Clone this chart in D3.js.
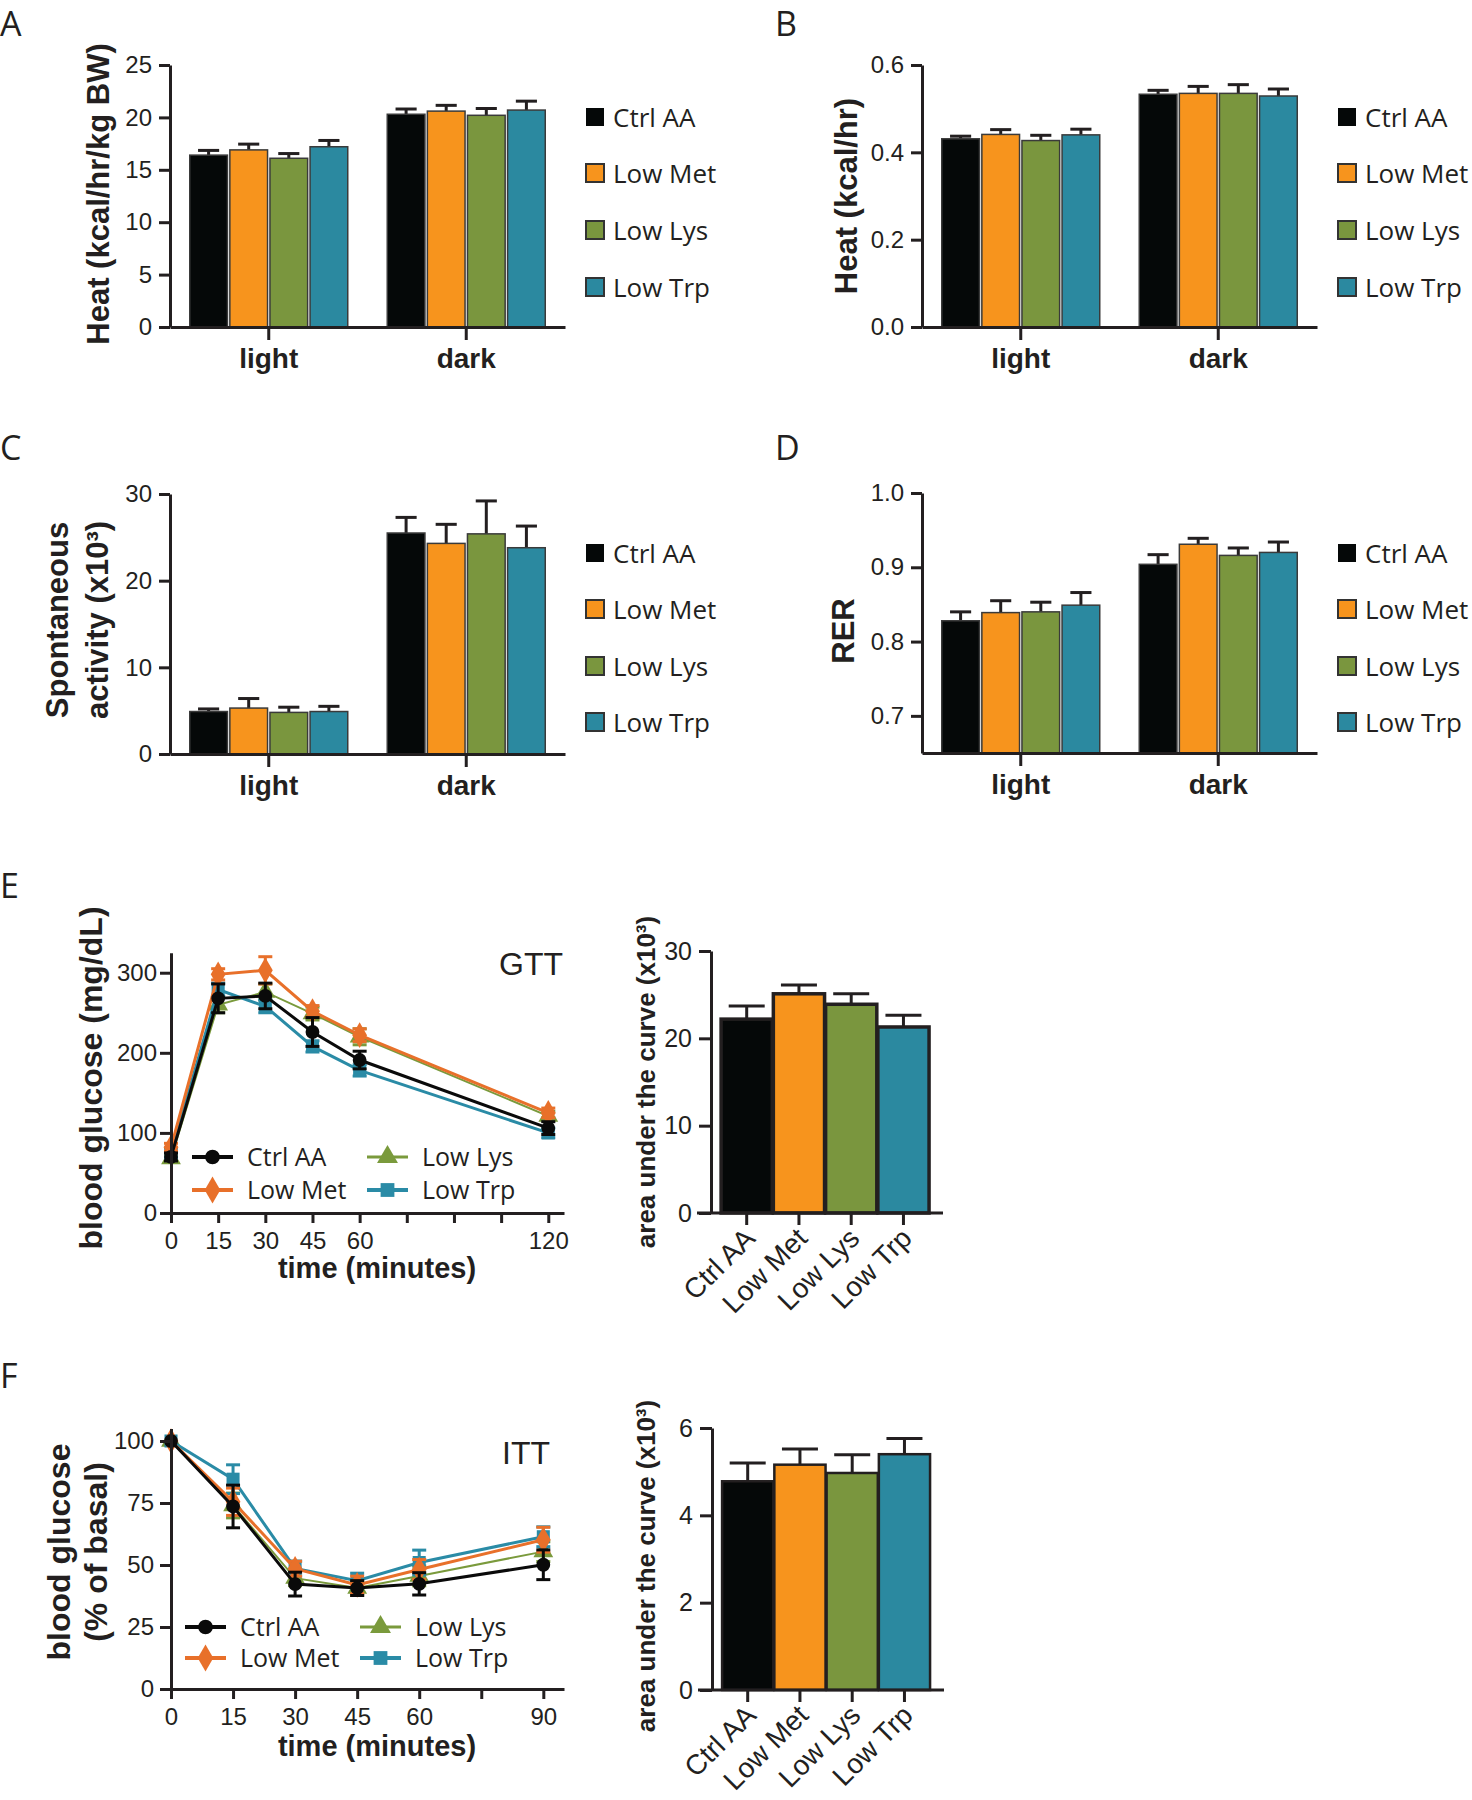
<!DOCTYPE html>
<html><head><meta charset="utf-8">
<script src="https://cdn.jsdelivr.net/npm/d3@7"></script>
<style>
body{margin:0;background:#fff;}
svg text{fill:#231F20;}
</style></head><body>
<script>
// ---------- DATA ----------
const periods = ["light", "dark"];
const groups = ["Ctrl AA", "Low Met", "Low Lys", "Low Trp"];

// A: Heat (kcal/hr/kg BW)
const heatBwLight = [16.4, 16.9, 16.1, 17.2];
const heatBwLightErr = [0.45, 0.55, 0.45, 0.6];
const heatBwDark = [20.3, 20.6, 20.2, 20.7];
const heatBwDarkErr = [0.5, 0.55, 0.65, 0.85];
const heatBwTicks = [0, 5, 10, 15, 20, 25];

// B: Heat (kcal/hr)
const heatLight = [0.431, 0.441, 0.427, 0.440];
const heatLightErr = [0.006, 0.011, 0.012, 0.013];
const heatDark = [0.533, 0.535, 0.535, 0.529];
const heatDarkErr = [0.009, 0.016, 0.020, 0.016];
const heatTicks = [0, 0.2, 0.4, 0.6];

// C: Spontaneous activity (x10^3)
const actLight = [4.9, 5.3, 4.8, 4.9];
const actLightErr = [0.3, 1.1, 0.6, 0.6];
const actDark = [25.5, 24.3, 25.4, 23.8];
const actDarkErr = [1.8, 2.2, 3.8, 2.5];
const actTicks = [0, 10, 20, 30];

// D: RER
const rerLight = [0.828, 0.839, 0.840, 0.849];
const rerLightErr = [0.012, 0.016, 0.013, 0.017];
const rerDark = [0.904, 0.931, 0.916, 0.920];
const rerDarkErr = [0.013, 0.008, 0.010, 0.014];
const rerTicks = [0.7, 0.8, 0.9, 1.0];

// E: GTT
const gttTimes = [0, 15, 30, 45, 60, 120];
const gttCtrl = [70, 268, 271, 226, 191, 106];
const gttCtrlErr = [5, 18, 16, 18, 11, 8];
const gttMet = [82, 298, 303, 252, 222, 125];
const gttMetErr = [5, 7, 17, 7, 8, 6];
const gttLys = [68, 260, 276, 249, 220, 121];
const gttLysErr = [4, 10, 10, 8, 10, 6];
const gttTrp = [75, 279, 258, 208, 178, 100];
const gttTrpErr = [6, 8, 8, 7, 7, 6];
const gttYTicks = [0, 100, 200, 300];
const gttXTicks = [0, 15, 30, 45, 60, 75, 90, 105, 120];
const gttXLabels = [0, 15, 30, 45, 60, 120];
const gttAuc = [22.2, 25.1, 23.9, 21.3];
const gttAucErr = [1.5, 1.0, 1.2, 1.35];
const gttAucTicks = [0, 10, 20, 30];

// F: ITT
const ittTimes = [0, 15, 30, 45, 60, 90];
const ittCtrl = [100, 73.6, 42.3, 40.7, 42.4, 50.1];
const ittCtrlErr = [0, 8.6, 4.8, 3, 4.5, 6];
const ittMet = [100, 75.5, 48.5, 42.0, 48.2, 60.2];
const ittMetErr = [0, 5.5, 3, 3.5, 4, 5];
const ittLys = [100, 74, 44.7, 40.7, 45.6, 55.4];
const ittLysErr = [0, 5, 3, 3, 4, 4];
const ittTrp = [100, 84.6, 48.6, 43.7, 51.0, 61.4];
const ittTrpErr = [0, 5.8, 3, 3, 5, 4];
const ittYTicks = [0, 25, 50, 75, 100];
const ittXTicks = [0, 15, 30, 45, 60, 75, 90];
const ittXLabels = [0, 15, 30, 45, 60, 90];
const ittAuc = [4.78, 5.16, 4.97, 5.40];
const ittAucErr = [0.42, 0.36, 0.42, 0.36];
const ittAucTicks = [0, 2, 4, 6];

// ---------- STYLE ----------
const barColors = ["#050808", "#F7941D", "#7A963E", "#2B89A0"];
const lineColors = ["#0A0A0A", "#E8702A", "#7A9A3C", "#2A8BA6"];
const INK = "#231F20";
const ARIAL = '"Liberation Sans", Arial, Helvetica, sans-serif';
const OPEN = '"Open Sans", "Noto Sans", sans-serif';

const svg = d3.select("body").append("svg")
  .attr("width", 1472).attr("height", 1800)
  .style("font-family", ARIAL);

function styleAxis(g, size, bold) {
  g.attr("font-family", ARIAL).attr("font-size", size);
  g.select(".domain").attr("stroke", INK).attr("stroke-width", 3);
  g.selectAll(".tick line").attr("stroke", INK).attr("stroke-width", 3);
  g.selectAll(".tick text").attr("fill", INK).attr("font-weight", bold ? "bold" : "normal");
}

function panelLetter(t, x, y) {
  svg.append("text").attr("x", x).attr("y", y).attr("font-family", OPEN)
    .attr("font-size", 34).text(t);
}

function yLabel(lines, cxs, cy, size) {
  lines.forEach((t, i) => {
    svg.append("text")
      .attr("transform", `translate(${cxs[i]},${cy}) rotate(-90)`)
      .attr("text-anchor", "middle").attr("dy", "0.35em")
      .attr("font-size", size).attr("font-weight", "bold").text(t);
  });
}

// ---------- BAR PANELS (A-D) ----------
function barPanel(o) {
  const g = svg.append("g");
  const y = d3.scaleLinear().domain(o.domain).range([o.yBot, o.yTop]);
  const x0 = d3.scaleBand().domain(periods).range([o.ax, o.ax + 395])
    .paddingInner(0.2).paddingOuter(0.1);
  const x1 = d3.scaleBand().domain(groups).range([0, x0.bandwidth()]).paddingInner(0.06);
  const data = [];
  periods.forEach((p, pi) => groups.forEach((gr, gi) => {
    data.push({ p, gr, gi, v: (pi ? o.dark : o.light)[gi], e: (pi ? o.darkErr : o.lightErr)[gi] });
  }));
  const bw = x1.bandwidth();
  const eg = g.append("g").attr("stroke", INK).attr("stroke-width", 3);
  data.forEach(d => {
    const cx = x0(d.p) + x1(d.gr) + bw / 2;
    eg.append("line").attr("x1", cx).attr("x2", cx).attr("y1", y(d.v)).attr("y2", y(d.v + d.e));
    eg.append("line").attr("x1", cx - bw * 0.28).attr("x2", cx + bw * 0.28)
      .attr("y1", y(d.v + d.e)).attr("y2", y(d.v + d.e));
  });
  g.selectAll("rect.bar").data(data).join("rect")
    .attr("x", d => x0(d.p) + x1(d.gr))
    .attr("y", d => y(d.v))
    .attr("width", bw)
    .attr("height", d => y(o.domain[0]) - y(d.v))
    .attr("fill", d => barColors[d.gi])
    .attr("stroke", "#3a3a3a").attr("stroke-width", 1.5);
  const ya = g.append("g").attr("transform", `translate(${o.ax},0)`)
    .call(d3.axisLeft(y).tickValues(o.ticks).tickFormat(d3.format(o.fmt))
      .tickSize(11).tickPadding(7).tickSizeOuter(0));
  styleAxis(ya, 24, false);
  const xa = g.append("g").attr("transform", `translate(0,${o.yBot})`)
    .call(d3.axisBottom(x0).tickSize(13).tickPadding(8).tickSizeOuter(0));
  styleAxis(xa, 28, true);
  const lg = g.append("g");
  groups.forEach((gr, i) => {
    const cy = o.legY[i];
    lg.append("rect").attr("x", o.ax + 416).attr("y", cy - 9).attr("width", 18).attr("height", 18)
      .attr("fill", barColors[i]).attr("stroke", "#333").attr("stroke-width", i ? 2 : 0);
    lg.append("text").attr("x", o.ax + 443).attr("y", cy + 9.5)
      .attr("font-family", OPEN).attr("font-size", 26).text(gr);
  });
}

const legAB = [117, 173, 230, 287];
const legCD = [553, 609, 666, 722];

barPanel({ ax: 170, yTop: 65, yBot: 327, domain: [0, 25], ticks: heatBwTicks, fmt: "d",
  light: heatBwLight, lightErr: heatBwLightErr, dark: heatBwDark, darkErr: heatBwDarkErr, legY: legAB });
barPanel({ ax: 922, yTop: 65, yBot: 327, domain: [0, 0.6], ticks: heatTicks, fmt: ".1f",
  light: heatLight, lightErr: heatLightErr, dark: heatDark, darkErr: heatDarkErr, legY: legAB });
barPanel({ ax: 170, yTop: 494, yBot: 754, domain: [0, 30], ticks: actTicks, fmt: "d",
  light: actLight, lightErr: actLightErr, dark: actDark, darkErr: actDarkErr, legY: legCD });
barPanel({ ax: 922, yTop: 493, yBot: 753, domain: [0.65, 1.0], ticks: rerTicks, fmt: ".1f",
  light: rerLight, lightErr: rerLightErr, dark: rerDark, darkErr: rerDarkErr, legY: legCD });

panelLetter("A", 0, 36);
panelLetter("B", 775, 36);
panelLetter("C", 0, 460);
panelLetter("D", 775, 460);
panelLetter("E", 0, 898);
panelLetter("F", 0, 1388);

yLabel(["Heat (kcal/hr/kg BW)"], [98], 194, 31);
yLabel(["Heat (kcal/hr)"], [846], 196, 31);
yLabel(["Spontaneous", "activity (x10³)"], [57, 97], 620, 31);
yLabel(["RER"], [843], 631, 31);

// ---------- LINE PANELS (E, F) ----------
const symTypes = [d3.symbolCircle, d3.symbolDiamond, d3.symbolTriangle, d3.symbolSquare];
const symSizes = [150, 190, 170, 170];
const lineWidths = [3, 3, 2, 3];

function linePanel(o) {
  const g = svg.append("g");
  const x = d3.scaleLinear().domain(o.xDomain).range([171, 564]);
  const y = d3.scaleLinear().domain(o.yDomain).range([o.yBot, o.yTop]);
  const order = [2, 3, 1, 0];
  order.forEach(si => {
    const vals = o.series[si], errs = o.errs[si], col = lineColors[si];
    const pts = o.times.map((t, i) => ({ t, v: vals[i], e: errs[i] }));
    g.append("path").datum(pts)
      .attr("d", d3.line().x(d => x(d.t)).y(d => y(d.v)))
      .attr("fill", "none").attr("stroke", col).attr("stroke-width", lineWidths[si]);
    const eg = g.append("g").attr("stroke", col).attr("stroke-width", 3);
    pts.filter(d => d.e > 0).forEach(d => {
      eg.append("line").attr("x1", x(d.t)).attr("x2", x(d.t)).attr("y1", y(d.v - d.e)).attr("y2", y(d.v + d.e));
      [d.v - d.e, d.v + d.e].forEach(vv => eg.append("line")
        .attr("x1", x(d.t) - 7).attr("x2", x(d.t) + 7).attr("y1", y(vv)).attr("y2", y(vv)));
    });
    g.selectAll(null).data(pts).join("path")
      .attr("transform", d => `translate(${x(d.t)},${y(d.v)})`)
      .attr("d", d3.symbol().type(symTypes[si]).size(symSizes[si]))
      .attr("fill", col);
  });
  const ya = g.append("g").attr("transform", "translate(171,0)")
    .call(d3.axisLeft(y).tickValues(o.yTicks).tickSize(11).tickPadding(o.yPad).tickSizeOuter(0));
  styleAxis(ya, 24, false);
  const xa = g.append("g").attr("transform", `translate(0,${o.yBot})`)
    .call(d3.axisBottom(x).tickValues(o.xTicks)
      .tickFormat(d => o.xLabels.includes(d) ? d : "").tickSize(10).tickPadding(9).tickSizeOuter(0));
  styleAxis(xa, 24, false);
  g.append("text").attr("x", 377).attr("y", o.xTitleY).attr("text-anchor", "middle")
    .attr("font-size", 29).attr("font-weight", "bold").text("time (minutes)");
  g.append("text").attr("x", o.tagX).attr("y", o.tagY).attr("text-anchor", "end")
    .attr("font-size", 32).text(o.tag);
  const cols = [[o.legX[0], o.legY[0]], [o.legX[0], o.legY[1]], [o.legX[1], o.legY[0]], [o.legX[1], o.legY[1]]];
  groups.forEach((gr, i) => {
    const [lx, ly] = cols[i];
    g.append("line").attr("x1", lx).attr("x2", lx + 41).attr("y1", ly).attr("y2", ly)
      .attr("stroke", lineColors[i]).attr("stroke-width", lineWidths[i] + 1);
    g.append("path").attr("transform", `translate(${lx + 20.5},${ly})`)
      .attr("d", d3.symbol().type(symTypes[i]).size(symSizes[i] + 20)).attr("fill", lineColors[i]);
    g.append("text").attr("x", lx + 55).attr("y", ly + 9).attr("font-family", OPEN)
      .attr("font-size", 25).text(gr);
  });
}

linePanel({ xDomain: [0, 125], yDomain: [0, 325], yBot: 1213, yTop: 952.7, yPad: 3,
  times: gttTimes, series: [gttCtrl, gttMet, gttLys, gttTrp], errs: [gttCtrlErr, gttMetErr, gttLysErr, gttTrpErr],
  yTicks: gttYTicks, xTicks: gttXTicks, xLabels: gttXLabels, xTitleY: 1278,
  tag: "GTT", tagX: 563, tagY: 975, legX: [192, 367], legY: [1157, 1190] });
linePanel({ xDomain: [0, 95], yDomain: [0, 105], yBot: 1689, yTop: 1428.6, yPad: 6,
  times: ittTimes, series: [ittCtrl, ittMet, ittLys, ittTrp], errs: [ittCtrlErr, ittMetErr, ittLysErr, ittTrpErr],
  yTicks: ittYTicks, xTicks: ittXTicks, xLabels: ittXLabels, xTitleY: 1756,
  tag: "ITT", tagX: 550, tagY: 1464, legX: [185, 360], legY: [1627, 1658] });

yLabel(["blood glucose (mg/dL)"], [91], 1078, 32);
yLabel(["blood glucose", "(% of basal)"], [59, 96], 1552, 32);

// ---------- AUC PANELS ----------
function aucPanel(o) {
  const g = svg.append("g");
  const y = d3.scaleLinear().domain(o.domain).range([o.yBot, o.yTop]);
  const x = d3.scaleBand().domain(groups).range([o.ax, o.ax + 232])
    .paddingInner(0.02).paddingOuter(0.23).align(0.42);
  const bw = x.bandwidth();
  const eg = g.append("g").attr("stroke", INK).attr("stroke-width", 3);
  groups.forEach((gr, i) => {
    const cx = x(gr) + bw / 2;
    eg.append("line").attr("x1", cx).attr("x2", cx).attr("y1", y(o.vals[i])).attr("y2", y(o.vals[i] + o.errs[i]));
    eg.append("line").attr("x1", cx - 18).attr("x2", cx + 18)
      .attr("y1", y(o.vals[i] + o.errs[i])).attr("y2", y(o.vals[i] + o.errs[i]));
  });
  g.selectAll("rect").data(groups).join("rect")
    .attr("x", d => x(d)).attr("y", (d, i) => y(o.vals[i]))
    .attr("width", bw).attr("height", (d, i) => y(0) - y(o.vals[i]))
    .attr("fill", (d, i) => barColors[i]).attr("stroke", INK).attr("stroke-width", o.sw);
  const ya = g.append("g").attr("transform", `translate(${o.ax},0)`)
    .call(d3.axisLeft(y).tickValues(o.ticks).tickFormat(d3.format("d"))
      .tickSize(12).tickPadding(7).tickSizeOuter(0));
  styleAxis(ya, 25, false);
  const xa = g.append("g").attr("transform", `translate(0,${o.yBot})`)
    .call(d3.axisBottom(x).tickSize(12).tickSizeOuter(0));
  styleAxis(xa, 28, false);
  xa.select(".domain").attr("d", `M${o.ax - 14},0H${o.ax + 232}`);
  xa.selectAll(".tick text").attr("text-anchor", "end").attr("y", 0).attr("dy", 0)
    .attr("transform", "translate(10,27) rotate(-45)");
  yLabel(["area under the curve (x10³)"], [o.labX], o.labY, 26);
}

aucPanel({ ax: 711, yTop: 951, yBot: 1213, domain: [0, 30], ticks: gttAucTicks,
  vals: gttAuc, errs: gttAucErr, sw: 3.5, labX: 646, labY: 1082 });
aucPanel({ ax: 712, yTop: 1428, yBot: 1690, domain: [0, 6], ticks: ittAucTicks,
  vals: ittAuc, errs: ittAucErr, sw: 2.5, labX: 646, labY: 1566 });
</script>
</body></html>
